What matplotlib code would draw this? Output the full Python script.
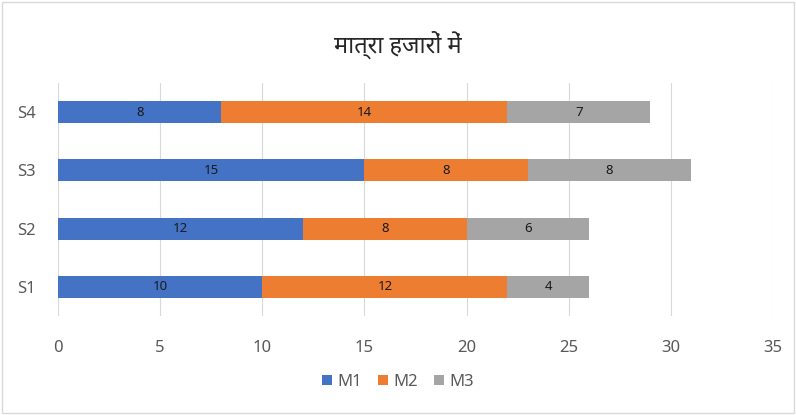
import numpy as np
import matplotlib
matplotlib.use("Agg")
import matplotlib.pyplot as plt
from matplotlib.patches import Rectangle

# donnees
categories = ["S1", "S2", "S3", "S4"]
m1 = [10, 12, 15, 8]
m2 = [12, 8, 8, 14]
m3 = [4, 6, 8, 7]
series_names = ["M1", "M2", "M3"]
colors = ["#4472C4", "#ED7D31", "#A5A5A5"]
title = "मात्रा हजारों में"

plt.rcParams['font.family'] = ['Noto Sans', 'DejaVu Sans']

fig = plt.figure(figsize=(7.96, 4.15), dpi=100)
ax = fig.add_axes([58/796, 1 - 316/415, (773-58)/796, (316-83)/415])

y = np.arange(len(categories))
left = np.zeros(len(categories))
for vals, name, col in zip([m1, m2, m3], series_names, colors):
    bars = ax.barh(y, vals, left=left, height=0.38, color=col, label=name, zorder=3)
    for b, v in zip(bars, vals):
        ax.text(b.get_x() + b.get_width()/2, b.get_y() + b.get_height()/2, str(v),
                ha="center", va="center", fontsize=9.5, color="#1a1a1a", zorder=4)
    left += np.array(vals)

ax.set_xlim(0, 35)
ax.set_ylim(-0.5, 3.5)
ax.set_xticks(np.arange(0, 36, 5))
ax.set_yticks(y)
ax.set_yticklabels(categories)
ax.grid(axis="x", color="#D9D9D9", linewidth=0.8, zorder=0)
for s in ax.spines.values():
    s.set_visible(False)
ax.tick_params(axis="both", length=0, labelsize=12, labelcolor="#595959")
ax.tick_params(axis="x", pad=17)
ax.tick_params(axis="y", pad=16)

fig.text(0.5, 1 - 45/415, title, ha="center", va="center", fontsize=17,
         fontweight="semibold", color="#262626")

fig.legend(loc="center", bbox_to_anchor=(0.5, 1 - 382/415), ncol=3, frameon=False,
           fontsize=12, handlelength=0.6, handleheight=0.6, handletextpad=0.3,
           columnspacing=1.0, labelcolor="#595959")

fig.patches.append(Rectangle((2/796, 2/415), 1 - 4/796, 1 - 4/415, transform=fig.transFigure,
                             fill=False, edgecolor="#D9D9D9", linewidth=1))

fig.savefig("out.png", dpi=100)
